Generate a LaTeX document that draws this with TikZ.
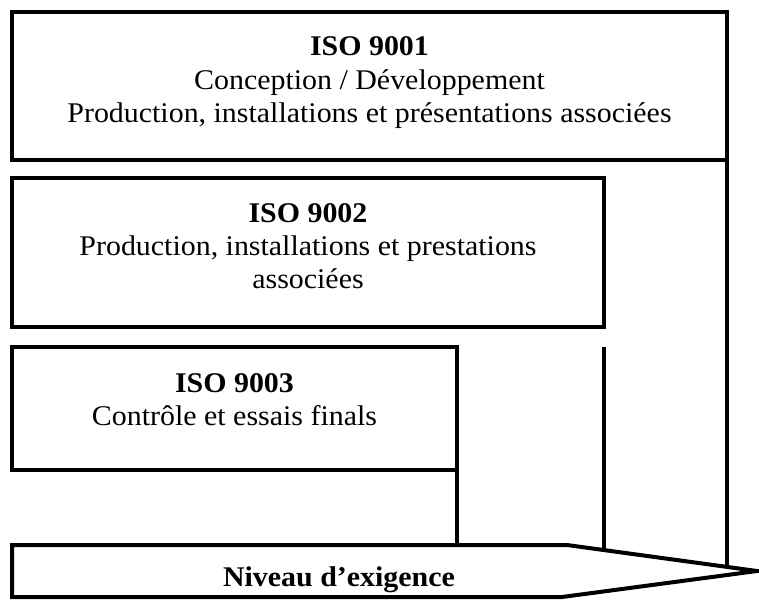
\documentclass[tikz,border=0pt]{standalone}
\usepackage{fontspec}
\setmainfont[FakeStretch=1.05]{Liberation Serif}
\usetikzlibrary{calc}
\begin{document}
\begin{tikzpicture}[x=1pt,y=-1pt,
  frame/.style={draw=black, line width=4pt, line join=miter, outer sep=0pt, inner sep=0pt, anchor=north west},
  rule/.style={draw=black, line width=4pt},
  lbl/.style={anchor=base, inner sep=0pt, font=\fontsize{28.5}{33}\selectfont},
  head/.style={anchor=base, inner sep=0pt, font=\fontsize{28.5}{33}\selectfont\bfseries}]
\useasboundingbox (0,0) rectangle (759,600);

% the three standards, nested by scope
\node[frame, minimum width=715pt, minimum height=148pt] (b1) at (12,12) {};
\node[frame, minimum width=592pt, minimum height=149pt] (b2) at (12,178) {};
\node[frame, minimum width=445pt, minimum height=123pt] (b3) at (12,347) {};

% arrow for the level of requirement
\coordinate (a1) at (12,545);
\coordinate (a2) at (567,545);
\coordinate (tip) at (757,571);
\coordinate (a3) at (562,597);
\coordinate (a4) at (12,597);
\draw[rule, line join=miter] (a1) -- (a2) -- (tip) -- (a3) -- (a4) -- cycle;

% drop lines from each box down to the arrow
\coordinate (d3) at (b3.south east |- a1);
\coordinate (d2top) at (b2.south east |- b3.north);
\coordinate (d2) at ($(a2)!0.195!(tip)$);
\coordinate (d1) at ($(a2)!0.842!(tip)$);
\draw[rule] (b3.south east) -- (d3);
\draw[rule] (d2top) -- (d2top |- d2);
\draw[rule] (b1.south east) -- (b1.south east |- d1);

% texts
\node[head] (t1) at (369.5,55) {ISO 9001};
\node[lbl] (t1a) at (369.5,89) {Conception / Développement};
\node[lbl] (t1b) at (369.5,122) {Production, installations et présentations associées};

\node[head] (t2) at (308,222) {ISO 9002};
\node[lbl] (t2a) at (308,255) {Production, installations et prestations};
\node[lbl] (t2b) at (308,288) {associées};

\node[head] (t3) at (234.5,392) {ISO 9003};
\node[lbl] (t3a) at (234.5,425) {Contrôle et essais finals};

\node[head] (ta) at (339,586) {Niveau d’exigence};
\end{tikzpicture}
\end{document}
